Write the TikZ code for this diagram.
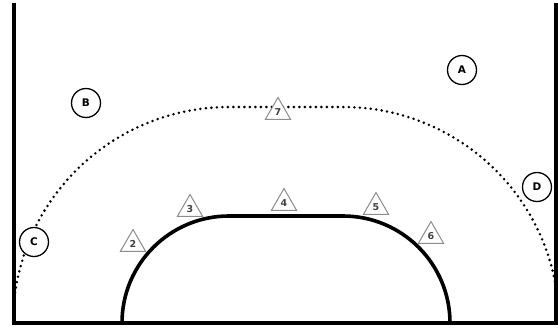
\documentclass[tikz,border=0pt]{standalone}
\usepackage{fontspec}
\setsansfont{DejaVu Sans}
\usetikzlibrary{shapes.geometric}
\tikzset{
  player/.style={circle, draw=black, line width=1.3pt, fill=white, minimum size=29pt, inner sep=0pt, font=\sffamily\fontsize{10.5}{10.5}\selectfont\bfseries},
  cone/.style={regular polygon, regular polygon sides=3, draw=black!45, line width=1pt, fill=white, minimum size=29pt, inner sep=0pt, text=black!75, font=\sffamily\fontsize{9.5}{9.5}\selectfont\bfseries},
  border/.style={line width=4pt},
  sixline/.style={line width=3.6pt},
  nineline/.style={line width=2.8pt, line cap=round, dash pattern=on 0pt off 5.5pt},
}
\begin{document}
\begin{tikzpicture}[x=1pt, y=-1pt]
\useasboundingbox (0,0) rectangle (558,330);
% borders
\draw[border] (14,3) -- (14,323) -- (556,323) -- (556,3);
% 9 m dotted line
\draw[nineline] (229,323) ++(-172:216) arc[start angle=-172, end angle=-90, radius=216] -- (343,107) arc[start angle=-90, end angle=-9.6, radius=216];
% 6 m line
\draw[sixline] (122,323) arc[start angle=180, end angle=270, radius=107] -- (343,216) arc[start angle=-90, end angle=0, radius=107];
% players
\node[player] (A) at (462,70) {A};
\node[player] (B) at (86,103) {B};
\node[player] (C) at (34,242) {C};
\node[player] (D) at (537,187) {D};
% cones
\node[cone] (t2) at (133,244) {2};
\node[cone] (t3) at (190,209) {3};
\node[cone] (t4) at (284,203) {4};
\node[cone] (t5) at (376,207) {5};
\node[cone] (t6) at (431,236) {6};
\node[cone] (t7) at (278,112) {7};
\end{tikzpicture}
\end{document}
